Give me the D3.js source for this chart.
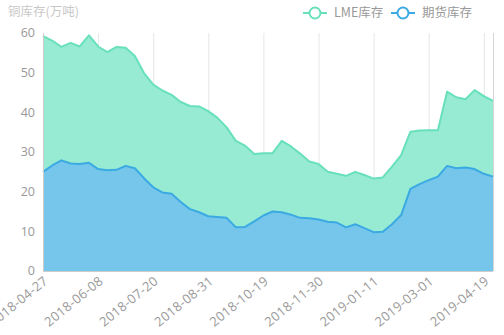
<!DOCTYPE html>
<html>
<head>
<meta charset="utf-8">
<script src="https://cdn.jsdelivr.net/npm/d3@7/dist/d3.min.js"></script>
<style>
  html, body { margin: 0; padding: 0; background: #fff; }
  svg { display: block; font-family: "Noto Sans CJK SC", "Noto Sans", sans-serif; }
  .num { font-family: "Open Sans", "Noto Sans", sans-serif; }
</style>
</head>
<body>
<svg id="chart" width="504" height="335"></svg>
<script>
// Weekly copper inventory (10k tonnes)
const dates = [
  "2018-04-27","2018-05-04","2018-05-11","2018-05-18","2018-05-25","2018-06-01",
  "2018-06-08","2018-06-15","2018-06-22","2018-06-29","2018-07-06","2018-07-13",
  "2018-07-20","2018-07-27","2018-08-03","2018-08-10","2018-08-17","2018-08-24",
  "2018-08-31","2018-09-07","2018-09-14","2018-09-21","2018-09-28","2018-10-12",
  "2018-10-19","2018-10-26","2018-11-02","2018-11-09","2018-11-16","2018-11-23",
  "2018-11-30","2018-12-07","2018-12-14","2018-12-21","2018-12-28","2019-01-04",
  "2019-01-11","2019-01-18","2019-01-25","2019-02-01","2019-02-15","2019-02-22",
  "2019-03-01","2019-03-08","2019-03-15","2019-03-22","2019-03-29","2019-04-12",
  "2019-04-19","2019-04-26"
];
const lmeStock = [
  34.2,31.5,28.6,30.4,29.6,32.1,30.9,29.8,31.0,29.8,
  28.3,26.5,25.9,25.7,24.9,25.2,26.0,26.7,26.5,25.0,
  22.8,21.8,20.5,17.0,15.7,14.7,18.0,17.2,16.2,14.3,
  14.0,12.6,12.3,13.0,13.2,13.4,13.5,13.7,14.5,15.1,
  14.4,13.5,12.6,11.7,18.7,17.9,17.2,19.9,19.6,19.1
];
const futuresStock = [
  25.0,26.6,27.9,27.1,27.0,27.3,25.7,25.4,25.5,26.5,
  25.9,23.4,21.1,19.8,19.5,17.4,15.6,14.8,13.8,13.6,
  13.4,11.0,11.1,12.5,14.0,15.0,14.8,14.2,13.4,13.3,
  13.0,12.4,12.2,11.0,11.8,10.8,9.8,9.9,11.8,14.1,
  20.7,21.9,22.9,23.8,26.5,25.9,26.1,25.7,24.5,23.8
];
const seriesNames = ["LME库存", "期货库存"];
const yTicks = [0, 10, 20, 30, 40, 50, 60];
const labelEvery = 6;

const svg = d3.select("#chart");
const margin = { left: 43, right: 11, top: 33, bottom: 64 };
const W = 504, H = 335;

const x = d3.scalePoint()
  .domain(dates)
  .range([margin.left, W - margin.right]);
const y = d3.scaleLinear()
  .domain([0, 60])
  .range([H - margin.bottom, margin.top]);

const colors = {
  "期货库存": { fill: "#76c6ec", line: "#3ba9e2" },
  "LME库存": { fill: "#97ebd3", line: "#67e0bb" }
};

// stack futures at the bottom, LME on top of it
const rows = dates.map((d, i) => ({ date: d, "期货库存": futuresStock[i], "LME库存": lmeStock[i] }));
const stack = d3.stack().keys(["期货库存", "LME库存"]);
const layers = stack(rows);

const labelIdx = dates.map((d, i) => i).filter(i => i % labelEvery === 0);

// vertical split lines
const grid = svg.append("g");
labelIdx.forEach(i => {
  grid.append("line")
    .attr("x1", x(dates[i]) + 0.5).attr("x2", x(dates[i]) + 0.5)
    .attr("y1", y(60)).attr("y2", y(0))
    .attr("stroke", "#e6e6e6").attr("stroke-width", 1);
});
grid.append("line")
  .attr("x1", x(dates[dates.length - 1]) + 0.5).attr("x2", x(dates[dates.length - 1]) + 0.5)
  .attr("y1", y(60)).attr("y2", y(0))
  .attr("stroke", "#d6d6d6").attr("stroke-width", 1);

const area = d3.area()
  .x(d => x(d.data.date))
  .y0(d => y(d[0]))
  .y1(d => y(d[1]));
const topLine = d3.line()
  .x(d => x(d.data.date))
  .y(d => y(d[1]));

layers.slice().reverse().forEach(layer => {
  svg.append("path")
    .datum(layer)
    .attr("d", area)
    .attr("fill", colors[layer.key].fill);
});
layers.forEach(layer => {
  svg.append("path")
    .datum(layer)
    .attr("d", topLine)
    .attr("fill", "none")
    .attr("stroke", colors[layer.key].line)
    .attr("stroke-width", 2)
    .attr("stroke-linejoin", "round");
});

// axis lines
svg.append("line")
  .attr("x1", margin.left + 0.5).attr("x2", margin.left + 0.5)
  .attr("y1", y(60)).attr("y2", y(0))
  .attr("stroke", "#cccccc");
svg.append("line")
  .attr("x1", margin.left).attr("x2", W - margin.right)
  .attr("y1", y(0) + 0.5).attr("y2", y(0) + 0.5)
  .attr("stroke", "#cccccc");

// y labels
svg.append("g").selectAll("text")
  .data(yTicks)
  .join("text")
  .attr("class", "num")
  .attr("x", margin.left - 8)
  .attr("y", d => y(d))
  .attr("dy", "0.35em")
  .attr("text-anchor", "end")
  .attr("font-size", 12.5)
  .attr("fill", "#999")
  .text(d => d);

// x labels, rotated
svg.append("g").selectAll("text")
  .data(labelIdx)
  .join("text")
  .attr("class", "num")
  .attr("transform", i => `translate(${x(dates[i]) + 3},${y(0) + 8}) rotate(-39)`)
  .attr("text-anchor", "end")
  .attr("dy", "0.35em")
  .attr("font-size", 13)
  .attr("letter-spacing", 0.3)
  .attr("fill", "#999")
  .text(i => dates[i]);

// title
svg.append("text")
  .attr("x", 8).attr("y", 12)
  .attr("dy", "0.35em")
  .attr("font-size", 12.5)
  .attr("fill", "#c8c8c8")
  .text("铜库存(万吨)");

// legend
const legendItems = [
  { name: "LME库存", x: 303 },
  { name: "期货库存", x: 391 }
];
const lg = svg.append("g");
legendItems.forEach(it => {
  const c = colors[it.name];
  const g = lg.append("g").attr("transform", `translate(${it.x},13)`);
  g.append("line").attr("x1", 0).attr("x2", 24).attr("y1", 0).attr("y2", 0)
    .attr("stroke", c.line).attr("stroke-width", 2);
  g.append("circle").attr("cx", 12).attr("cy", 0).attr("r", 5.5)
    .attr("fill", "#fff").attr("stroke", c.line).attr("stroke-width", 2);
  g.append("text").attr("x", 31).attr("y", 0).attr("dy", "0.35em")
    .attr("font-size", 12.5).attr("fill", "#999").text(it.name);
});
</script>
</body>
</html>
